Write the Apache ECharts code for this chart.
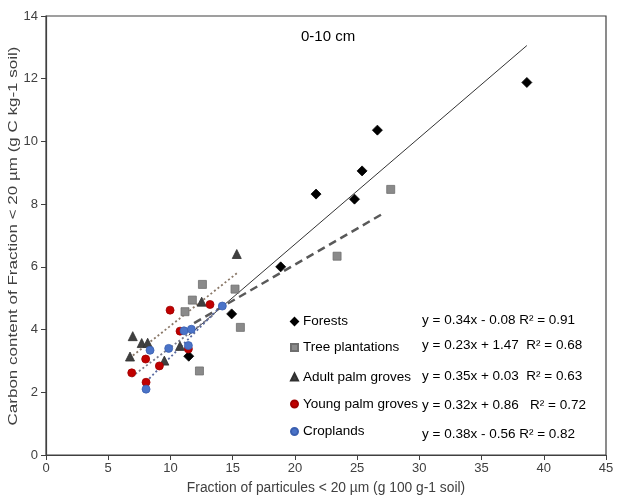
<!DOCTYPE html>
<html>
<head>
<meta charset="utf-8">
<script src="https://cdn.jsdelivr.net/npm/echarts@6/dist/echarts.min.js"></script>
<style>html,body{margin:0;padding:0;background:#fff}#c{width:617px;height:499px}</style>
</head>
<body>
<div id="c"></div>
<script>
// ---- data ----
var seriesNames = ["Forests", "Tree plantations", "Adult palm groves", "Young palm groves", "Croplands"];
var forests = [[11.47,3.15],[14.92,4.50],[18.86,6.00],[21.70,8.32],[24.79,8.16],[25.40,9.06],[26.63,10.36],[38.64,11.88]];
var treePlantations = [[11.17,4.57],[11.76,4.94],[12.33,2.68],[12.57,5.44],[15.19,5.29],[15.62,4.07],[23.39,6.34],[27.70,8.47]];
var adultPalm = [[6.75,3.14],[6.97,3.79],[7.69,3.57],[8.17,3.58],[9.51,3.01],[10.77,3.48],[12.51,4.89],[15.33,6.41]];
var youngPalm = [[6.89,2.62],[8.01,3.06],[8.04,2.32],[9.11,2.84],[9.97,4.62],[10.77,3.95],[11.44,3.38],[13.18,4.80]];
var croplands = [[8.04,2.10],[8.36,3.34],[9.86,3.40],[11.09,3.96],[11.44,3.49],[11.68,4.01],[14.17,4.75]];
// trendlines: slope, intercept, x range (as drawn)
var trendSlopes = [0.34, 0.23, 0.314, 0.30, 0.40];
var trendIntercepts = [-0.08, 1.47, 0.98, 0.43, -0.88];
var trendXRanges = [[11.47,38.64],[11.9,27.25],[6.70,15.33],[6.89,13.4],[8.04,14.17]];
var equations = ["y = 0.34x - 0.08 R\u00b2 = 0.91", "y = 0.23x + 1.47  R\u00b2 = 0.68", "y = 0.35x + 0.03  R\u00b2 = 0.63", "y = 0.32x + 0.86   R\u00b2 = 0.72", "y = 0.38x - 0.56 R\u00b2 = 0.82"];
var xTicks = {min:0, max:45, interval:5};
var yTicks = {min:0, max:14, interval:2};
var panelLabel = "0-10 cm";
var xTitle = "Fraction of particules < 20 \u00b5m (g 100 g-1 soil)";
var yTitle = "Carbon content of Fraction < 20 \u00b5m (g C kg-1 soil)";

// ---- styles ----
var FONT = "Liberation Sans, Arial, sans-serif";
var allData = [forests, treePlantations, adultPalm, youngPalm, croplands];
var symbols = ["diamond", "rect", "triangle", "circle", "circle"];
var sizes = [10, 8, 9, 8, 8];
var colors = ["#000000", "#8a8a8a", "#404040", "#c00000", "#4a73c8"];
var borders = ["#000000", "#6e6e6e", "#303030", "#a00000", "#3a5fb0"];
var lineColors = ["#333333", "#595959", "#8a7868", "#7a7a8a", "#5a6aa0"];
var lineTypes = ["solid", [8,5], [2,2.5], [2,2.5], [2,2.5]];
var lineWidths = [1, 2.5, 1.8, 1.8, 1.8];
var legendYs = [321.5, 347.5, 377, 404, 431.5];
var eqYs = [320.7, 345.5, 376.7, 405, 434];

var series = [];
for (var i = 0; i < 5; i++) {
  var a = trendSlopes[i], b = trendIntercepts[i], r = trendXRanges[i];
  series.push({
    type: "line", name: seriesNames[i] + " trend", silent: true, symbol: "none", z: 1,
    data: [[r[0], a*r[0]+b], [r[1], a*r[1]+b]],
    lineStyle: {color: lineColors[i], width: lineWidths[i], type: lineTypes[i]}
  });
}
for (var i = 0; i < 5; i++) {
  series.push({
    type: "scatter", name: seriesNames[i], data: allData[i], symbol: symbols[i], symbolSize: sizes[i], z: 3,
    itemStyle: {color: colors[i], borderColor: borders[i], borderWidth: 0.8, opacity: 1}
  });
}

var legends = [];
for (var i = 0; i < 5; i++) {
  legends.push({
    data: [{name: seriesNames[i], icon: symbols[i]}],
    left: 290, top: legendYs[i] - 8, padding: 0,
    itemWidth: 7, itemHeight: 7, selectedMode: false,
    textStyle: {fontFamily: FONT, fontSize: 13.5, color: "#000", lineHeight: 16}
  });
}

var graphics = [{
  type: "text", left: 329 - 28, top: 29,
  style: {text: panelLabel, font: "15px " + FONT, fill: "#000"}
}, {
  type: "text", x: 13, y: 236, rotation: Math.PI / 2, scaleX: 1.26,
  style: {text: yTitle, font: "13.5px " + FONT, fill: "#404040", align: "center", verticalAlign: "middle"}
}];
for (var i = 0; i < 5; i++) {
  graphics.push({
    type: "text", x: 422, y: eqYs[i],
    style: {text: equations[i], font: "13.5px " + FONT, fill: "#000", textVerticalAlign: "middle"}
  });
}

var chart = echarts.init(document.getElementById("c"), null, {renderer: "canvas"});
chart.setOption({
  animation: false,
  backgroundColor: "#fff",
  grid: {left: 46, right: 11, top: 16, bottom: 44, containLabel: false, outerBoundsMode: "none", show: true, borderColor: "#404040", borderWidth: 1.2, backgroundColor: "transparent"},
  xAxis: {
    type: "value", min: xTicks.min, max: xTicks.max, interval: xTicks.interval,
    name: xTitle, nameLocation: "middle", nameGap: 26,
    nameTextStyle: {fontFamily: FONT, fontSize: 13.8, color: "#404040"},
    axisLine: {show: true, lineStyle: {color: "#404040", width: 1.2}},
    axisTick: {show: true, inside: false, length: 5, lineStyle: {color: "#404040"}},
    axisLabel: {fontFamily: FONT, fontSize: 13, color: "#404040", margin: 7},
    splitLine: {show: false}
  },
  yAxis: {
    type: "value", min: yTicks.min, max: yTicks.max, interval: yTicks.interval,
    axisLine: {show: true, lineStyle: {color: "#404040", width: 1.2}},
    axisTick: {show: true, inside: false, length: 5, lineStyle: {color: "#404040"}},
    axisLabel: {fontFamily: FONT, fontSize: 13, color: "#404040", margin: 8},
    splitLine: {show: false}
  },
  legend: legends,
  graphic: graphics,
  series: series
});
</script>
</body>
</html>
